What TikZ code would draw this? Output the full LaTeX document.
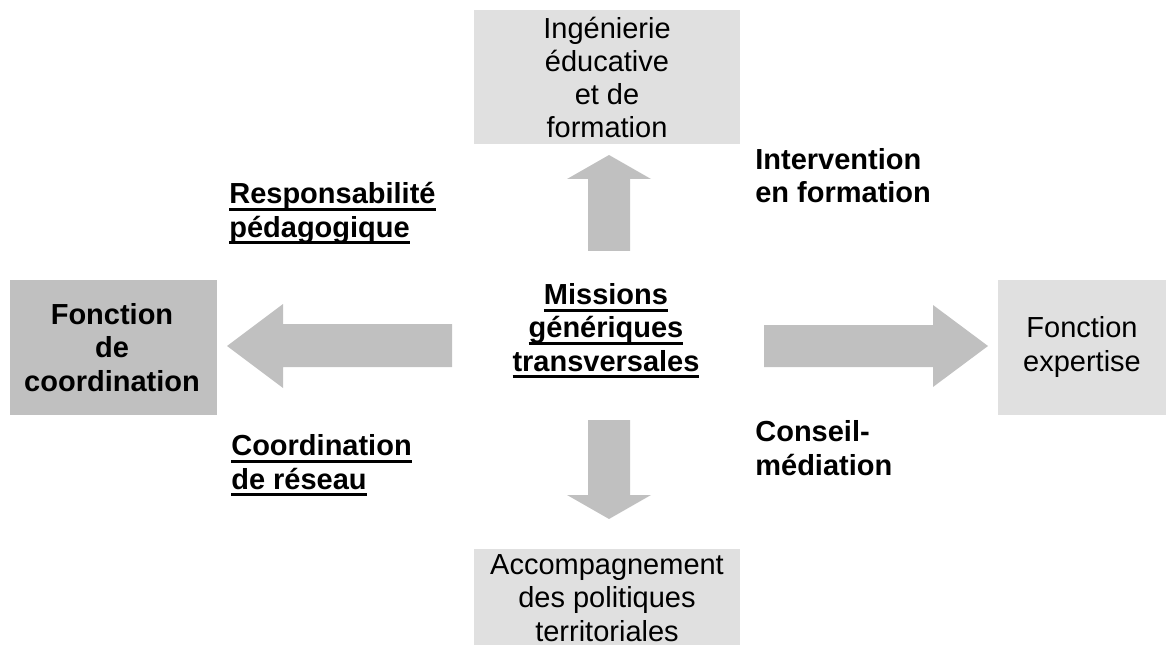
\documentclass[tikz,border=0pt]{standalone}
\usepackage{fontspec}
\setmainfont{Liberation Sans}
\newcommand{\ulw}[1]{\setbox0=\hbox{#1}\rlap{\vrule width\wd0 height -2.4pt depth 3.9pt}\box0}
\definecolor{greydark}{HTML}{C0C0C0}
\definecolor{greylight}{HTML}{E0E0E0}
\tikzset{txt/.style={font=\fontsize{16.5}{18.8}\selectfont, align=center, inner sep=0pt, anchor=base}}
\tikzset{txtb/.style={txt, font=\fontsize{16.5}{18.8}\selectfont\bfseries}}
\tikzset{lbl/.style={font=\fontsize{16.5}{18.8}\selectfont\bfseries, align=left, inner sep=0pt, anchor=base west}}
\tikzset{bx/.style={inner sep=0pt, minimum height=2.7cm}}
\tikzset{blk/.style={fill=greydark}}

\begin{document}
\begin{tikzpicture}[x=0.02cm,y=-0.02cm]
  \useasboundingbox (0,0) rectangle (1166,645);
  % boxes
  \node[bx, fill=greydark, minimum width=4.14cm] (coord) at (113.5,347.5) {};
  \node[bx, fill=greylight, minimum width=5.32cm, minimum height=2.68cm] (inge) at (607,77) {};
  \node[bx, fill=greylight, minimum width=3.36cm] (expert) at (1082,347.5) {};
  \node[bx, fill=greylight, minimum width=5.32cm, minimum height=3.02cm] (accomp) at (607,624.5) {};
  % box texts (anchored on the last line)
  \node[txtb] (coordtxt) at (112,391) {Fonction\\de\\coordination};
  \node[txt] (ingetxt) at (607,138) {Ingénierie\\éducative\\et de\\formation};
  \node[txt] (experttxt) at (1082,371) {Fonction\\expertise};
  \node[txt] (accomptxt) at (607,641) {Accompagnement\\des politiques\\territoriales};
  \node[txtb] (missions) at (606,371)
    {\ulw{Missions}\\\ulw{génériques}\\\ulw{transversales}};
  % labels
  \node[lbl] (resp) at (229,237) {\ulw{Responsabilité}\\\ulw{pédagogique}};
  \node[lbl] (reseau) at (231,489) {\ulw{Coordination}\\\ulw{de réseau}};
  \node[lbl] (interv) at (755,203) {Intervention\\en formation};
  \node[lbl] (conseil) at (755,475) {Conseil-\\médiation};
  % block arrows
  \fill[blk] (452,324) -- (283,324) -- (283,304) -- (227,346) -- (283,388) -- (283,367) -- (452,367) -- cycle;
  \fill[blk] (764,325) -- (933,325) -- (933,305) -- (988,346) -- (933,387) -- (933,367) -- (764,367) -- cycle;
  \fill[blk] (588,251) -- (588,179) -- (567,179) -- (609,155) -- (651,179) -- (630,179) -- (630,251) -- cycle;
  \fill[blk] (588,420) -- (588,495) -- (567,495) -- (609,519) -- (651,495) -- (630,495) -- (630,420) -- cycle;
\end{tikzpicture}
\end{document}
